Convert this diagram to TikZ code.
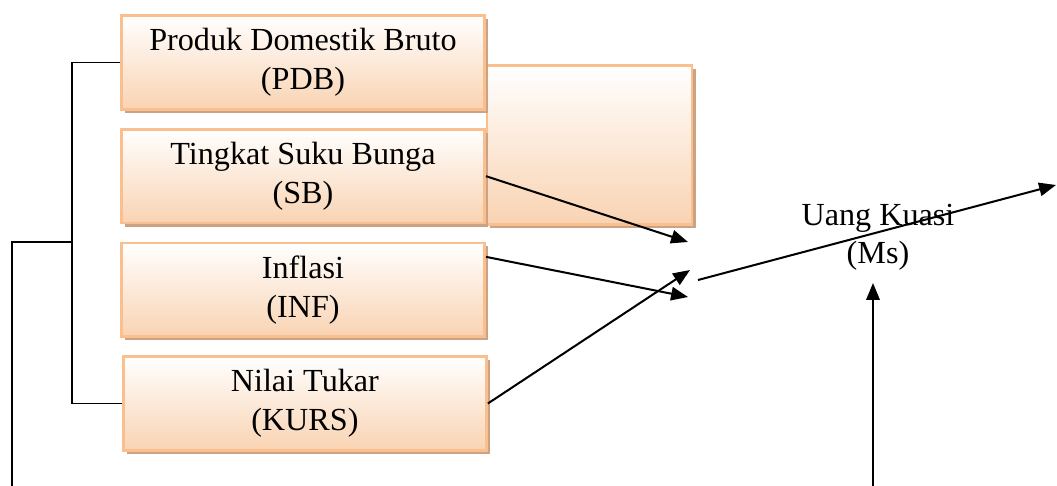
\documentclass[tikz,border=0pt]{standalone}
\usepackage{fontspec}
\setmainfont{Liberation Serif}
\usepackage{xcolor}
\usepackage{tikz}
\usetikzlibrary{
  arrows.meta,
  positioning,
  shadows,
  calc
}
\definecolor{ukEdge}{HTML}{F9BF8F}
\definecolor{ukFill}{HTML}{F9D3B2}
\definecolor{ukShade}{HTML}{CDA283}
\tikzset{
  ukbox/.style={
    draw=ukEdge, line width=1pt, top color=white, bottom color=ukFill,
    minimum width=135.5pt, minimum height=35pt, align=center,
    font=\fontsize{12}{14.6}\selectfont,
    drop shadow={shadow xshift=1.3pt, shadow yshift=-1.3pt, fill=ukShade, opacity=1}
  },
  ukpanel/.style={ukbox, minimum width=76.5pt, minimum height=59.5pt},
  ukfree/.style={align=center, font=\fontsize{12}{14.2}\selectfont, inner sep=1pt},
  flow/.style={-{Triangle[length=6.3pt,width=5pt]}, line width=0.75pt},
  bracket/.style={line width=0.6pt, black}
}

\begin{document}
\begin{tikzpicture}[x=0.373pt, y=-0.373pt, node distance=6.4pt]
  \useasboundingbox (0,0) rectangle (1057,486);
  \node[ukpanel] (panel) at (589.5,145) {};
  \node[ukbox] (pdb) at (303,62.5) {Produk Domestik Bruto\\(PDB)};
  \node[ukbox, below=of pdb] (sb) {Tingkat Suku Bunga\\(SB)};
  \node[ukbox, below=of sb] (inf) {Inflasi\\(INF)};
  \node[ukbox, below=of inf, xshift=0.7pt] (kurs) {Nilai Tukar\\(KURS)};
  \node[ukfree] (ms) at (878,237) {Uang Kuasi\\(Ms)};

  \coordinate (spine) at (72,242);
  \coordinate (lead) at (12,486);
  \coordinate (sbtip) at (688,242);
  \coordinate (inftip) at (688,297);
  \coordinate (kurstip) at (690,270);
  \coordinate (msfrom) at (698,280);
  \coordinate (msto) at (1056,185);
  \coordinate (msbase) at (873,486);
  \coordinate (mstip) at (873,283);

  \draw[bracket] (pdb.west) -| (spine) |- (kurs.west);
  \draw[bracket] (spine) -| (lead);
  \draw[flow] (sb.east) -- (sbtip);
  \draw[flow] ([yshift=12.3pt]inf.east) -- (inftip);
  \draw[flow] (kurs.east) -- (kurstip);
  \draw[flow] (msfrom) -- (msto);
  \draw[flow] (msbase) -- (mstip);
\end{tikzpicture}
\end{document}
